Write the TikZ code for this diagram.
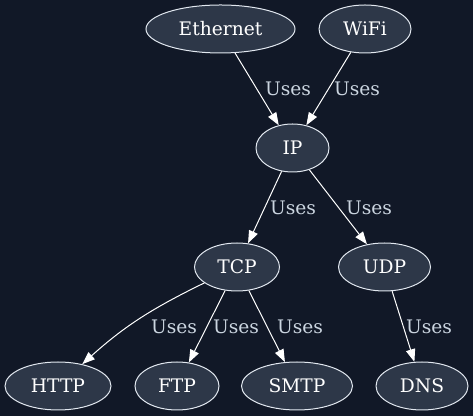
\documentclass[tikz,border=0pt]{standalone}
\usepackage{fontspec}
\setmainfont{DejaVu Serif}
\usepackage{xcolor}
\usepackage{tikz}
\usetikzlibrary{arrows.meta,positioning,shapes.geometric}
\definecolor{cBg}{HTML}{111827}
\definecolor{cFill}{HTML}{2D3748}
\definecolor{cEdge}{HTML}{E2E8F0}
\definecolor{cText}{HTML}{FFFFFF}
\definecolor{cLbl}{HTML}{CBD5E0}
\tikzset{
  proto/.style={ellipse,draw=cEdge,fill=cFill,line width=0.75pt,text=cText,inner sep=0pt,minimum height=36pt,minimum width=#1,font=\fontsize{14}{16}\selectfont},
  proto/.default=69pt,
  uses/.style={-{Triangle[length=9.5pt,width=7pt]},line width=0.75pt,color=white},
  lbl/.style={font=\fontsize{14}{16}\selectfont,text=cLbl,inner sep=0pt},
}

\begin{document}
\begin{tikzpicture}[x=0.75pt,y=0.75pt]
    \fill[cBg] (0,0) rectangle (473,416);
    \useasboundingbox (0,0) rectangle (473,416);
    % link layer
    \node[proto=111.75pt] (eth) at (220.5,387) {Ethernet};
    \node[proto=69pt] (wifi) at (365,387) {WiFi};
    % network / transport
    \node[proto=54.75pt] (ip) at (292.5,268) {IP};
    \node[proto=63.75pt] (tcp) at (237,149) {TCP};
    \node[proto=69pt] (udp) at (384.5,149) {UDP};
    % application layer
    \node[proto=79.5pt] (http) at (58,30) {HTTP};
    \node[proto=63pt] (ftp) at (177,30) {FTP};
    \node[proto=83.25pt] (smtp) at (297,30) {SMTP};
    \node[proto=69pt] (dns) at (422,30) {DNS};
    \draw[uses] (eth) -- (ip); \draw[uses] (wifi) -- (ip);
    \draw[uses] (ip) -- (tcp); \draw[uses] (ip) -- (udp);
    \draw[uses] (tcp) to[out=206,in=42] (http);
    \draw[uses] (tcp) -- (ftp); \draw[uses] (tcp) -- (smtp);
    \draw[uses] (udp) -- (dns);
    \node[lbl] (l1) at (288,327) {Uses};
    \node[lbl] (l2) at (357,327) {Uses};
    \node[lbl] (l3) at (293,208) {Uses};
    \node[lbl] (l4) at (369,208) {Uses};
    \node[lbl] (l5) at (174,89) {Uses};
    \node[lbl] (l6) at (236,89) {Uses};
    \node[lbl] (l7) at (300,89) {Uses};
    \node[lbl] (l8) at (429,89) {Uses};
  \end{tikzpicture}
\end{document}
